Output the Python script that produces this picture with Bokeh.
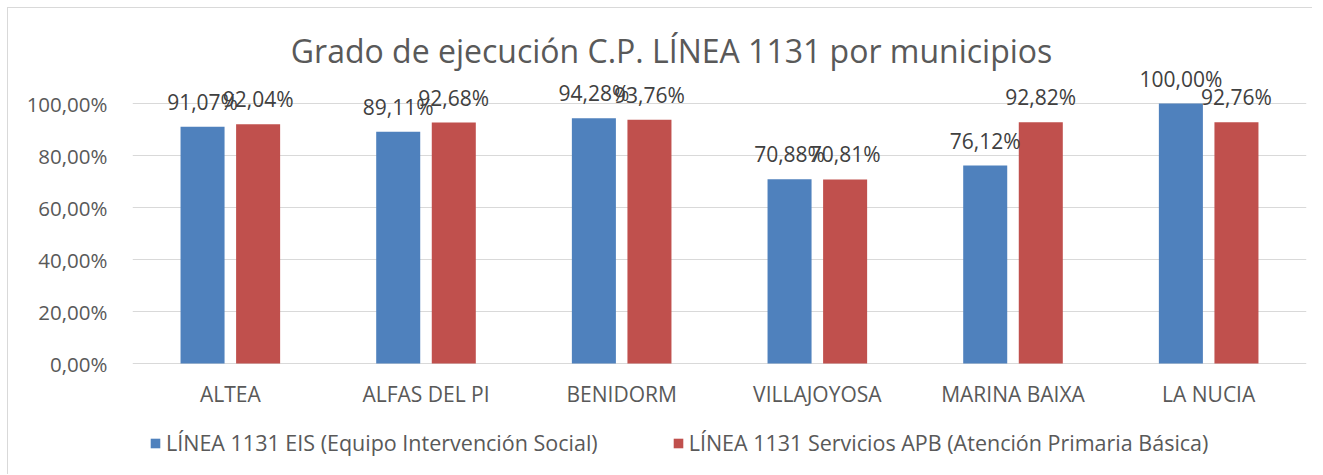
from bokeh.plotting import figure
from bokeh.models import ColumnDataSource, FactorRange, FixedTicker, LabelSet, Label, Legend, LegendItem
from bokeh.transform import dodge
from bokeh.embed import file_html
from bokeh.resources import INLINE
from bokeh.core.properties import value

# ---- data ----
categories = ["ALTEA", "ALFAS DEL PI", "BENIDORM", "VILLAJOYOSA", "MARINA BAIXA", "LA NUCIA"]
eis_values = [91.07, 89.11, 94.28, 70.88, 76.12, 100.00]
apb_values = [92.04, 92.68, 93.76, 70.81, 92.82, 92.76]
series_names = ["LÍNEA 1131 EIS (Equipo Intervención Social)",
                "LÍNEA 1131 Servicios APB (Atención Primaria Básica)"]
y_ticks = [0, 20, 40, 60, 80, 100]
y_tick_labels = ["0,00%", "20,00%", "40,00%", "60,00%", "80,00%", "100,00%"]
title_text = "Grado de ejecución C.P. LÍNEA 1131 por municipios"

FONT = "Open Sans"
TXT = "#595959"
BLUE = "#4F81BD"
RED = "#C0504D"


def fmt(v):
    return f"{v:.2f}".replace(".", ",") + "%"


src = ColumnDataSource(dict(
    cat=categories,
    zero=[0] * len(categories),
    eis=eis_values,
    apb=apb_values,
    eis_lbl=[fmt(v) for v in eis_values],
    apb_lbl=[fmt(v) for v in apb_values],
))

# frame spans the full canvas height so that titles/labels/legend are not clipped
PX_PER_UNIT = 2.6
Y_LO = -(475 - 363) / PX_PER_UNIT
Y_HI = 100 + (103 - 8) / PX_PER_UNIT

p = figure(x_range=FactorRange(*categories), y_range=(Y_LO, Y_HI),
           width=1305, height=467, output_backend="svg", toolbar_location=None,
           min_border_left=124, min_border_right=7, min_border_top=0, min_border_bottom=0)
p.styles = {"margin": "7px 0 0 7px",
            "border-top": "1px solid #d9d9d9", "border-left": "1px solid #d9d9d9"}
p.outline_line_color = None
p.background_fill_color = "white"
p.border_fill_color = "white"

OFF = 0.142
BW = 0.225
r1 = p.vbar(x=dodge("cat", -OFF, range=p.x_range), top="eis", width=BW, source=src,
            fill_color=BLUE, line_color=None)
r2 = p.vbar(x=dodge("cat", OFF, range=p.x_range), top="apb", width=BW, source=src,
            fill_color=RED, line_color=None)

for field, top, off in (("eis_lbl", "eis", -OFF), ("apb_lbl", "apb", OFF)):
    p.add_layout(LabelSet(x=dodge("cat", off, range=p.x_range), y=top, text=field, source=src,
                          text_align="center", text_baseline="alphabetic", y_offset=17,
                          text_font=value(FONT), text_font_size="21px", text_color="#404040"))

# category labels under the zero line
p.add_layout(LabelSet(x="cat", y="zero", text="cat", source=src,
                      text_align="center", text_baseline="alphabetic", y_offset=-38,
                      text_font=value(FONT), text_font_size="21px", text_color=TXT))
p.xaxis.visible = False

# y axis
p.yaxis.ticker = FixedTicker(ticks=y_ticks)
p.yaxis.major_label_overrides = {t: l for t, l in zip(y_ticks, y_tick_labels)}
p.yaxis.axis_line_color = None
p.yaxis.major_tick_line_color = None
p.yaxis.minor_tick_line_color = None
p.yaxis.major_label_standoff = 19
p.yaxis.major_label_text_font = FONT
p.yaxis.major_label_text_font_size = "20.5px"
p.yaxis.major_label_text_color = TXT

p.xgrid.grid_line_color = None
p.ygrid.grid_line_color = "#d9d9d9"
p.ygrid.grid_line_width = 1

# title
p.add_layout(Label(x=2.755, y=120.4, text=title_text, text_align="center",
                   text_baseline="middle", text_font=FONT,
                   text_font_size="32px", text_color=TXT))

legend = Legend(items=[LegendItem(label=series_names[0], renderers=[r1]),
                       LegendItem(label=series_names[1], renderers=[r2])],
                orientation="horizontal", location=(17, 18),
                glyph_width=12, glyph_height=12, label_standoff=5, spacing=74,
                padding=0, margin=0, border_line_color=None, background_fill_alpha=0,
                label_text_font=FONT, label_text_font_size="21.5px", label_text_color=TXT)
p.add_layout(legend)

open("out.html", "w").write(file_html(p, INLINE))
